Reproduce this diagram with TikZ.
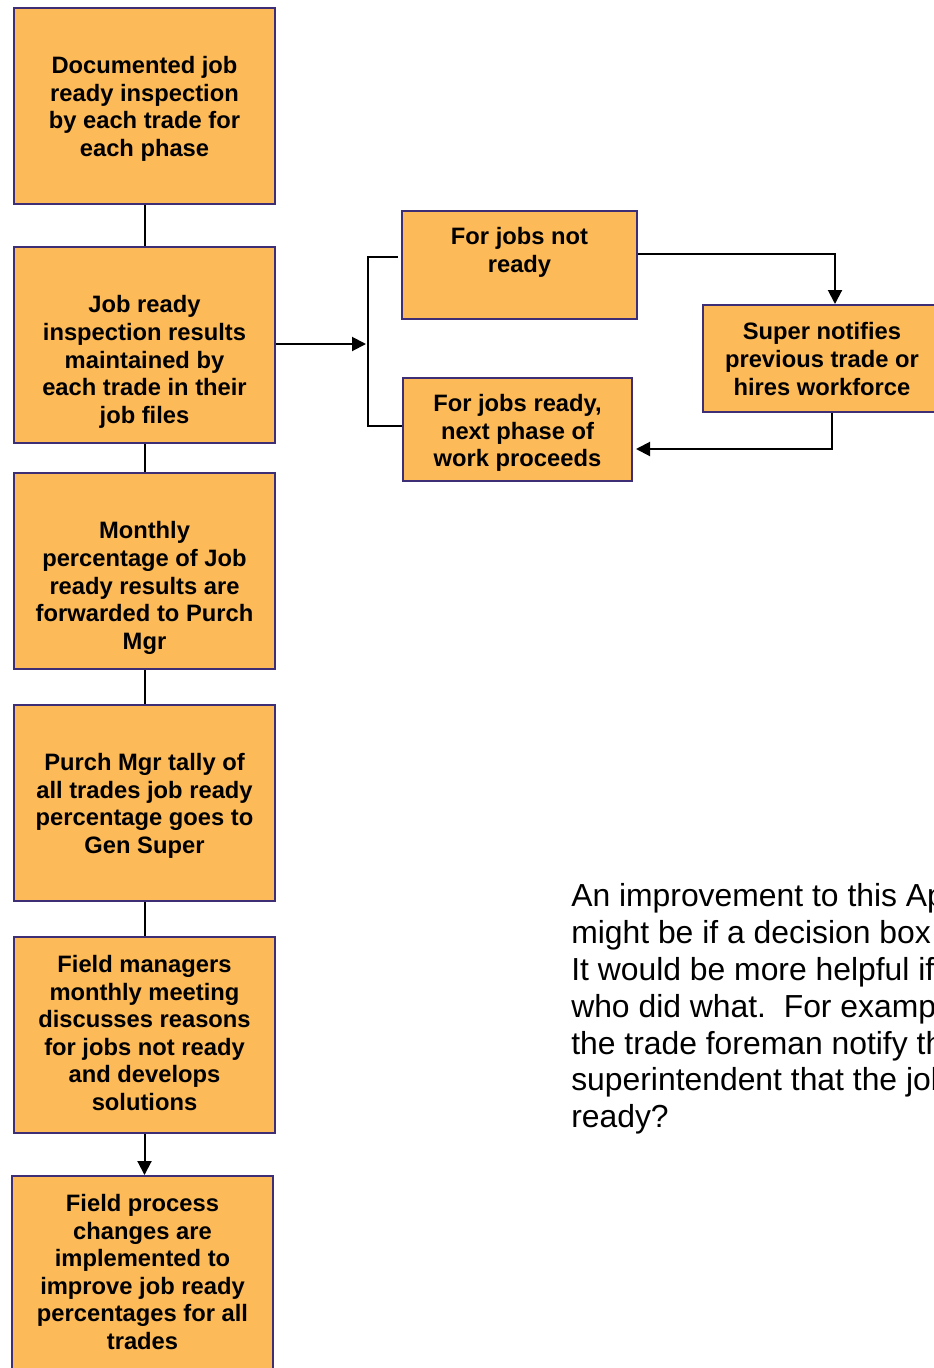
\documentclass[tikz,border=0pt]{standalone}
\usepackage{fontspec}
\setmainfont{Liberation Sans}
\usepackage{tikz}
\usetikzlibrary{arrows.meta}
\definecolor{boxfill}{RGB}{253,186,88}
\definecolor{boxline}{RGB}{62,46,118}
\def\px{0.75pt}
\tikzset{x=0.75pt, y=-0.75pt,
  stepbox/.style={draw=boxline, fill=boxfill, line width=1.5pt, inner sep=0pt},
  tall box/.style={stepbox, minimum width=261*\px, minimum height=196*\px},
  box text/.style={align=center, inner sep=0pt, font=\fontsize{17.8pt}{20.7pt}\selectfont\bfseries},
  link/.style={draw=black, line width=1.5pt},
  arr/.style={link, -{Triangle[length=10.5pt,width=10.5pt]}}
}
% one step of the flow: name, box centre, text centre, text
\def\JobStep#1#2#3#4{%
 \node[tall box] (#1) at (#2) {};
 \node[box text] (#1-t) at (#3) {#4};
}

\begin{document}
\begin{tikzpicture}
\useasboundingbox (0,0) rectangle (934,1368);
% left column
\JobStep{doc}{144.5,106}{144.5,109}{Documented job\\ready inspection\\by each trade for\\each phase}
\JobStep{insp}{144.5,345}{144.5,362}{Job ready\\inspection results\\maintained by\\each trade in their\\job files}
\JobStep{month}{144.5,571}{144.5,588}{Monthly\\percentage of Job\\ready results are\\forwarded to Purch\\Mgr}
\JobStep{purch}{144.5,803}{144.5,806}{Purch Mgr tally of\\all trades job ready\\percentage goes to\\Gen Super}
\JobStep{field}{144.5,1035}{144.5,1033}{Field managers\\monthly meeting\\discusses reasons\\for jobs not ready\\and develops\\solutions}
\JobStep{change}{142.5,1274}{142.5,1272}{Field process\\changes are\\implemented to\\improve job ready\\percentages for all\\trades}
% right branch
\node[stepbox, minimum width=235*\px, minimum height=108*\px] (notready) at (519.5,265) {};
\node[box text] (notready-t) at (519.5,252.5) {For jobs not\\ready};
\node[stepbox, minimum width=229*\px, minimum height=103*\px] (ready) at (517.5,429.5) {};
\node[box text] (ready-t) at (517.5,433) {For jobs ready,\\next phase of\\work proceeds};
\node[stepbox, minimum width=238*\px, minimum height=107*\px] (super) at (822,358.5) {};
\node[box text] (super-t) at (822,359) {Super notifies\\previous trade or\\hires workforce};
% note
\node[anchor=west, align=left, inner sep=0pt, font=\fontsize{23.9pt}{27.6pt}\selectfont] (note) at (571,1009)
 {An improvement to this Ap\\might be if a decision box\\It would be more helpful if\\who did what.\ \ For examp\\the trade foreman notify th\\superintendent that the job\\ready?};
% connectors
\draw[link] (doc) -- (insp);
\draw[link] (insp) -- (month);
\draw[link] (month) -- (purch);
\draw[link] (purch) -- (field);
\draw[arr] (field.south) -- (field.south |- change.north);
\draw[arr] ([shift={(0,-1)}]insp.east) -- ++(90,0);
\draw[link] ([shift={(-3,-8)}]notready.west) -- ++(-30,0) |- ([shift={(0,-3.5)}]ready.west);
\draw[arr] ([shift={(0,-11)}]notready.east) -| ([shift={(13,0)}]super.north);
\draw[arr] ([shift={(10,0)}]super.south) |- ([shift={(3,19.5)}]ready.east);
\end{tikzpicture}
\end{document}
